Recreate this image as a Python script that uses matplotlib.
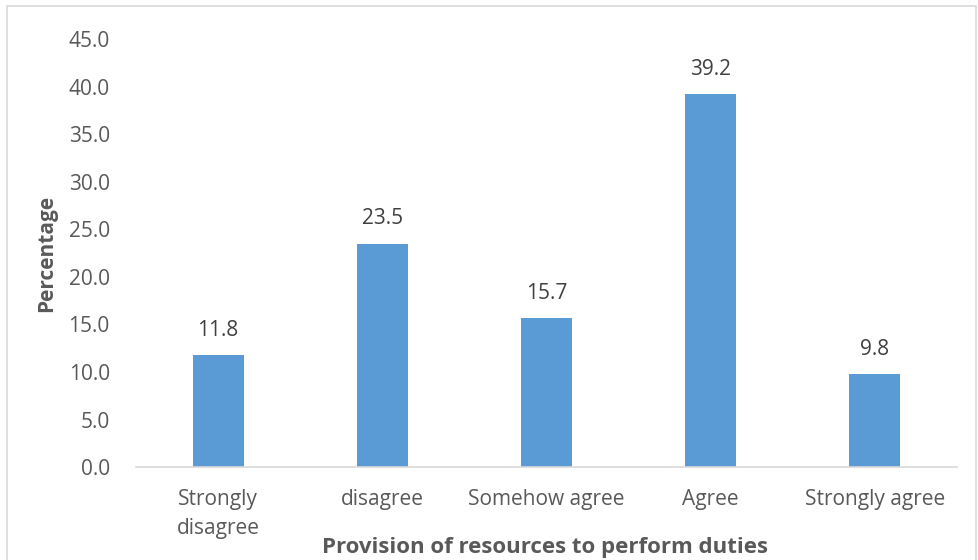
import matplotlib
matplotlib.use("Agg")
import matplotlib.pyplot as plt
from matplotlib.patches import Rectangle

categories = ["Strongly\ndisagree", "disagree", "Somehow agree", "Agree", "Strongly agree"]
percentages = [11.8, 23.5, 15.7, 39.2, 9.8]
y_ticks = [0, 5, 10, 15, 20, 25, 30, 35, 40, 45]

plt.rcParams["font.family"] = ["Open Sans", "DejaVu Sans"]
text_color = "#595959"
bar_color = "#5B9BD5"

fig = plt.figure(figsize=(9.79, 5.6), dpi=100)
ax = fig.add_axes([0.139, 0.166, 0.8385, 0.764])

x = range(len(categories))
bars = ax.bar(x, percentages, width=0.31, color=bar_color, zorder=2)
for xi, v in zip(x, percentages):
    ax.text(xi, v + 1.5, f"{v:.1f}", ha="center", va="bottom", fontsize=15, color="#404040")

ax.set_xlim(-0.5, len(categories) - 0.5)
ax.set_ylim(0, 45)
ax.set_yticks(y_ticks)
ax.set_yticklabels([f"{t:.1f}" for t in y_ticks], fontsize=15, color=text_color)
ax.set_xticks(list(x))
ax.set_xticklabels(categories, fontsize=15, color=text_color, linespacing=1.5)
ax.tick_params(axis="both", length=0)
ax.tick_params(axis="y", pad=19)
ax.tick_params(axis="x", pad=16)

for side in ("top", "right", "left"):
    ax.spines[side].set_visible(False)
ax.spines["bottom"].set_color("#D9D9D9")
ax.spines["bottom"].set_linewidth(1.2)

ax.set_ylabel("Percentage", fontsize=15, fontweight="bold", color=text_color, labelpad=8)
fig.text(0.557, 0.022, "Provision of resources to perform duties", ha="center", va="center",
         fontsize=16, fontweight="bold", color=text_color)

# light frame around the chart area
fig.patches.append(Rectangle((0.007, -0.01), 0.99, 1.0, transform=fig.transFigure,
                             fill=False, edgecolor="#D9D9D9", linewidth=1.2))

fig.savefig("out.png", dpi=100)
